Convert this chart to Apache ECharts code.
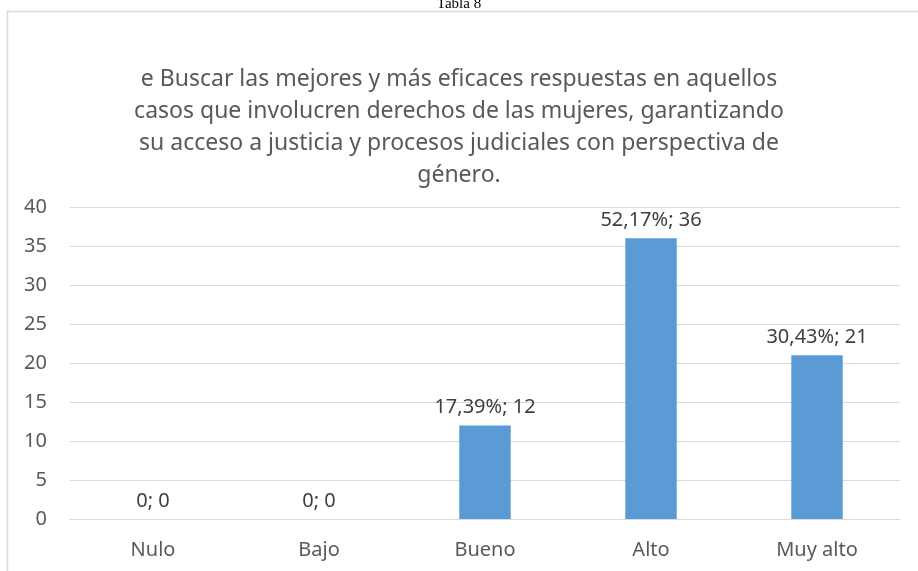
<!DOCTYPE html>
<html>
<head>
<meta charset="utf-8">
<script src="https://cdn.jsdelivr.net/npm/echarts@6/dist/echarts.min.js"></script>
<style>
  html, body { margin: 0; padding: 0; background: #fff; }
  #chart { width: 918px; height: 571px; }
</style>
</head>
<body>
<div id="chart"></div>
<script>
const categories = ['Nulo', 'Bajo', 'Bueno', 'Alto', 'Muy alto']
const counts = [0, 0, 12, 36, 21]
const percents = ['0', '0', '17,39%', '52,17%', '30,43%']
const yTicks = [0, 5, 10, 15, 20, 25, 30, 35, 40]

const titleText = 'e Buscar las mejores y más eficaces respuestas en aquellos\n' +
  'casos que involucren derechos de las mujeres, garantizando\n' +
  'su acceso a justicia y procesos judiciales con perspectiva de\n' +
  'género.'

const chart = echarts.init(document.getElementById('chart'))
chart.setOption({
  animation: false,
  textStyle: { fontFamily: 'Noto Sans' },
  graphic: [
    { type: 'rect', shape: { x: 7.5, y: 11.5, width: 930, height: 600 },
      style: { fill: 'none', stroke: '#d9d9d9', lineWidth: 1.5 } },
    { type: 'text', left: 'center', top: -3,
      style: { text: 'Tabla 8', font: '15px "Liberation Serif"', fill: '#000' } }
  ],
  title: {
    text: titleText,
    left: 'center',
    top: 58,
    textStyle: { fontSize: 23, fontWeight: 'normal', color: '#595959', lineHeight: 32, fontFamily: 'Noto Sans' }
  },
  grid: { left: 70, right: 18, top: 207, bottom: 52 },
  xAxis: {
    type: 'category',
    data: categories,
    axisLine: { lineStyle: { color: '#d9d9d9' } },
    axisTick: { show: false },
    axisLabel: { color: '#595959', fontSize: 20, margin: 21 }
  },
  yAxis: {
    type: 'value',
    min: yTicks[0],
    max: yTicks[yTicks.length - 1],
    interval: 5,
    axisLine: { show: false },
    axisTick: { show: false },
    splitLine: { lineStyle: { color: '#d9d9d9', width: 1 } },
    axisLabel: { color: '#595959', fontSize: 20, margin: 23 }
  },
  series: [{
    type: 'bar',
    data: counts,
    barWidth: '31%',
    itemStyle: { color: '#5b9bd5' },
    label: {
      show: true,
      position: 'top',
      distance: 8,
      color: '#404040',
      fontSize: 20,
      formatter: p => percents[p.dataIndex] + '; ' + p.value
    }
  }]
})
</script>
</body>
</html>
